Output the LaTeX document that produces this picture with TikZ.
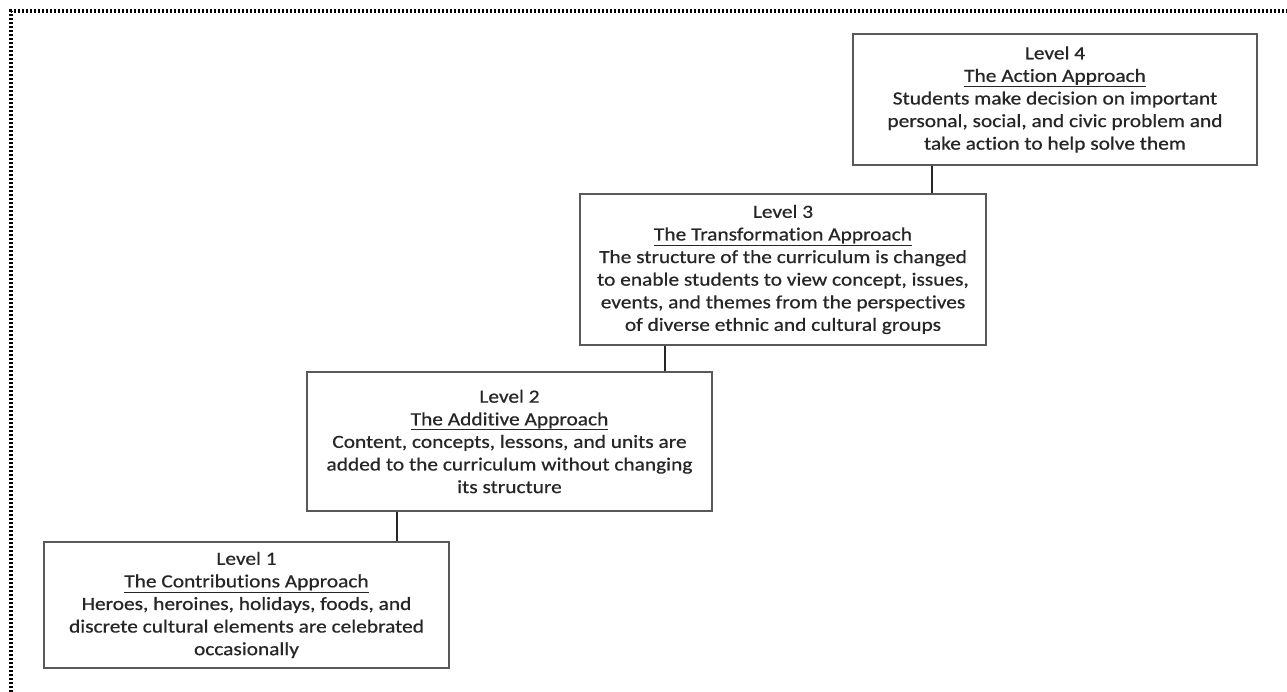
\documentclass[tikz,border=0pt]{standalone}
\usepackage{fontspec}
\setmainfont{Carlito}[FakeStretch=1.15, FakeBold=0.6, Ligatures=NoCommon]
\begin{document}
\begin{tikzpicture}[x=1pt,y=-1pt,
  levelbox/.style={draw=black!65, line width=1.8pt, rectangle, align=center,
    inner sep=0pt, font=\fontsize{18.6}{22.6}\selectfont, text=black!85},
  link/.style={draw=black!85, line width=1.6pt},
  frameline/.style={draw=black, line width=3.2pt, dash pattern=on 2pt off 2pt}]
\useasboundingbox (0,0) rectangle (1287,692);
\fill[white] (0,0) rectangle (1287,692);
\coordinate (f1) at (11,692);
\coordinate (f2) at (11,11);
\coordinate (f3) at (1287,11);
\draw[frameline] (f1) -- (f2) -- (f3);

\node[levelbox, minimum width=404pt, minimum height=131pt] (l4) at (1055,99.5)
  {Level 4\\ \underline{The Action Approach}\\
   Students make decision on important\\
   personal, social, and civic problem and\\
   take action to help solve them};
\node[levelbox, minimum width=406pt, minimum height=151pt] (l3) at (783,269.5)
  {Level 3\\ \underline{The Transformation Approach}\\
   The structure of the curriculum is changed\\
   to enable students to view concept, issues,\\
   events, and themes from the perspectives\\
   of diverse ethnic and cultural groups};
\node[levelbox, minimum width=405pt, minimum height=139pt] (l2) at (509.5,441.5)
  {Level 2\\ \underline{The Additive Approach}\\
   Content, concepts, lessons, and units are\\
   added to the curriculum without changing\\
   its structure};
\node[levelbox, minimum width=405pt, minimum height=126pt] (l1) at (246.5,605)
  {Level 1\\ \underline{The Contributions Approach}\\
   Heroes, heroines, holidays, foods, and\\
   discrete cultural elements are celebrated\\
   occasionally};

\draw[link] ([xshift=80pt]l4.south west) -- ([xshift=80pt]l4.south west |- l3.north);
\draw[link] ([xshift=86pt]l3.south west) -- ([xshift=86pt]l3.south west |- l2.north);
\draw[link] ([xshift=91pt]l2.south west) -- ([xshift=91pt]l2.south west |- l1.north);
\end{tikzpicture}
\end{document}
